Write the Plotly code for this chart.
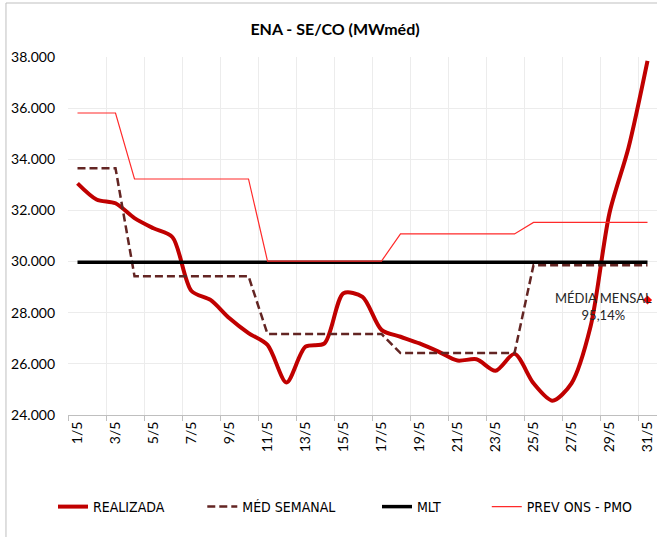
import plotly.graph_objects as go

# categorias (dias de maio)
dias = ["1/5", "2/5", "3/5", "4/5", "5/5", "6/5", "7/5", "8/5", "9/5", "10/5",
        "11/5", "12/5", "13/5", "14/5", "15/5", "16/5", "17/5", "18/5", "19/5", "20/5",
        "21/5", "22/5", "23/5", "24/5", "25/5", "26/5", "27/5", "28/5", "29/5", "30/5", "31/5"]

realizada = [33060, 32430, 32280, 31700, 31300, 30950, 28850, 28500, 27780, 27200,
             26740, 25270, 26670, 26800, 28760, 28620, 27330, 27060, 26800, 26480,
             26130, 26180, 25730, 26390, 25240, 24560, 25240, 27450, 31900, 34450, 37850]

med_semanal = [33650, 33650, 33650, 29430, 29430, 29430, 29430, 29430, 29430, 29430,
               27170, 27170, 27170, 27170, 27170, 27170, 27170, 26420, 26420, 26420,
               26420, 26420, 26420, 26420, 29860, 29860, 29860, 29860, 29860, 29860, 29860]

mlt = [29970] * 31

prev_ons = [35810, 35810, 35810, 33230, 33230, 33230, 33230, 33230, 33230, 33230,
            30020, 30020, 30020, 30020, 30020, 30020, 30020, 31080, 31080, 31080,
            31080, 31080, 31080, 31080, 31530, 31530, 31530, 31530, 31530, 31530, 31530]

media_mensal = 28500
media_mensal_txt = "MÉDIA MENSAL<br>95,14%"

y_ticks = [24000, 26000, 28000, 30000, 32000, 34000, 36000, 38000]

xi = list(range(len(dias)))

FONT = "Lato, Calibri, sans-serif"
LEG_FONT = "Liberation Sans Narrow, DejaVu Sans Condensed, Lato, sans-serif"

fig = go.Figure()
fig.add_trace(go.Scatter(x=xi, y=realizada, mode="lines", name="REALIZADA",
                         line=dict(color="#c00000", width=4, shape="spline", smoothing=0.8),
                         legend="legend"))
fig.add_trace(go.Scatter(x=xi, y=med_semanal, mode="lines", name="MÉD SEMANAL",
                         line=dict(color="#632523", width=2.5, dash="8px,4px"),
                         legend="legend2"))
fig.add_trace(go.Scatter(x=xi, y=mlt, mode="lines", name="MLT",
                         line=dict(color="#000000", width=3.5),
                         legend="legend3"))
fig.add_trace(go.Scatter(x=xi, y=prev_ons, mode="lines", name="PREV ONS - PMO",
                         line=dict(color="#ff2a2a", width=1.2),
                         legend="legend4"))
fig.add_trace(go.Scatter(x=[xi[-1]], y=[media_mensal], mode="markers", showlegend=False,
                         cliponaxis=False,
                         marker=dict(color="#ff0000", size=7, symbol="diamond")))

fig.add_annotation(x=27.7, y=28230, xref="x", yref="y", text=media_mensal_txt,
                   showarrow=False, font=dict(family=FONT, size=13, color="#262626"),
                   align="center")

# moldura do gráfico
border = "#bfbfbf"
fig.add_shape(type="line", xref="paper", yref="paper", x0=-0.1053, x1=-0.1053,
              y0=1.1508, y1=-0.35, line=dict(color=border, width=1))
fig.add_shape(type="line", xref="paper", yref="paper", x0=-0.1053, x1=1.01,
              y0=1.1508, y1=1.1508, line=dict(color=border, width=1))

leg = dict(orientation="h", yanchor="middle", y=-0.257, xanchor="left",
           font=dict(family=LEG_FONT, size=14, color="#000000"),
           bgcolor="rgba(0,0,0,0)")
fig.update_layout(
    width=657, height=537,
    margin=dict(l=68, r=0, t=57, b=122),
    paper_bgcolor="white", plot_bgcolor="white",
    separators=",.",
    title=dict(text="<b>ENA - SE/CO (MWméd)</b>", x=335 / 657, xanchor="center",
               xref="container", y=1 - 29 / 537, yref="container", yanchor="middle",
               font=dict(family=FONT, size=16, color="#000000")),
    legend=dict(leg, x=-0.0255),
    legend2=dict(leg, x=0.228),
    legend3=dict(leg, x=0.5246),
    legend4=dict(leg, x=0.711),
    font=dict(family=FONT, size=14, color="#000000"),
)

fig.update_xaxes(
    range=[-0.5, 30.5], tickmode="array", tickvals=xi[::2], ticktext=dias[::2],
    tickangle=-90, ticks="", showgrid=False, zeroline=False, automargin=False,
    showline=True, linecolor="#bfbfbf", linewidth=1,
    tickfont=dict(family=FONT, size=14, color="#000000"),
    minor=dict(tick0=-0.5, dtick=2, showgrid=True, gridcolor="#ececec", gridwidth=1,
               ticks="outside", ticklen=5, tickcolor="#bfbfbf"),
)
fig.update_yaxes(
    range=[24000, 38000], tickvals=y_ticks, tickformat=",d", automargin=False,
    showgrid=True, gridcolor="#ececec", gridwidth=1, zeroline=False, showline=False,
    ticks="", ticklabelstandoff=12,
    tickfont=dict(family=FONT, size=14, color="#000000"),
)

# sem margem no body, para a figura ocupar a janela inteira
fig.write_html("out.html", config={"displayModeBar": False},
               post_script="document.body.style.margin='0';")
